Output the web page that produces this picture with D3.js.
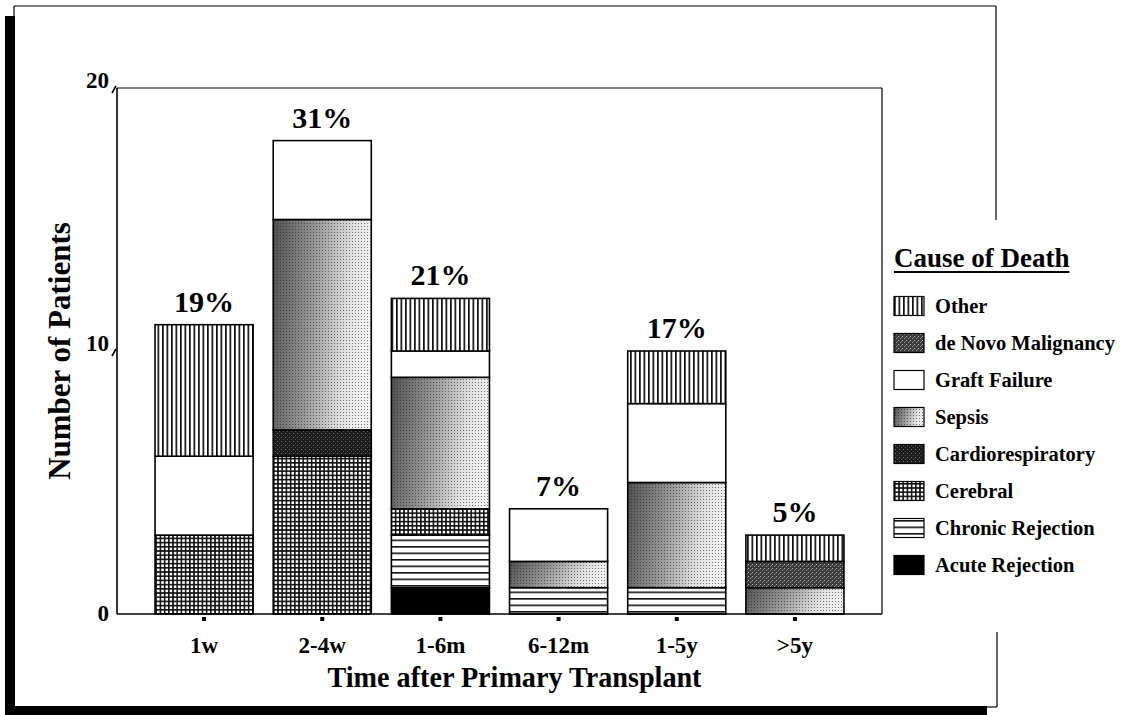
<!DOCTYPE html>
<html><head><meta charset="utf-8">
<script src="https://cdn.jsdelivr.net/npm/d3@7/dist/d3.min.js"></script>
<style>
html,body{margin:0;padding:0;background:#fff;}
svg text{font-family:"Liberation Serif","Times New Roman",serif;font-weight:bold;fill:#000;}
</style></head>
<body>
<svg id="chart" width="1131" height="715"></svg>
<script>
// ---- data ----
const categories = ["1w", "2-4w", "1-6m", "6-12m", "1-5y", ">5y"];
const acuteRejection   = [0, 0, 1, 0, 0, 0];
const chronicRejection = [0, 0, 2, 1, 1, 0];
const cerebral         = [3, 6, 1, 0, 0, 0];
const cardiorespiratory= [0, 1, 0, 0, 0, 0];
const sepsis           = [0, 8, 5, 1, 4, 1];
const graftFailure     = [3, 3, 1, 2, 3, 0];
const deNovoMalignancy = [0, 0, 0, 0, 0, 1];
const other            = [5, 0, 2, 0, 2, 1];
const percentLabels = ["19%", "31%", "21%", "7%", "17%", "5%"];
const yTicks = [0, 10, 20];
const seriesNames = ["Acute Rejection", "Chronic Rejection", "Cerebral", "Cardiorespiratory",
                     "Sepsis", "Graft Failure", "de Novo Malignancy", "Other"];
const seriesValues = [acuteRejection, chronicRejection, cerebral, cardiorespiratory,
                      sepsis, graftFailure, deNovoMalignancy, other];
const legendTitle = "Cause of Death";
const xTitle = "Time after Primary Transplant";
const yTitle = "Number of Patients";

// ---- layout ----
const svg = d3.select("#chart");
const plot = {left: 117, right: 882, top: 88, bottom: 614};
const x = d3.scaleBand().domain(categories).range([145, 854]).paddingInner(0.17).paddingOuter(0.085);
const y = d3.scaleLinear().domain([0, 20]).range([plot.bottom, plot.top]);

// ---- patterns ----
const defs = svg.append("defs");
function pat(id, w, h) {
  return defs.append("pattern").attr("id", id).attr("patternUnits", "userSpaceOnUse")
    .attr("width", w).attr("height", h);
}
let p;
p = pat("pOther", 4.5, 10);
p.append("rect").attr("width", 4.5).attr("height", 10).attr("fill", "#fff");
p.append("rect").attr("x", 0).attr("width", 1.7).attr("height", 10).attr("fill", "#111");

p = pat("pCerebral", 4.2, 4.2);
p.append("rect").attr("width", 4.2).attr("height", 4.2).attr("fill", "#fff");
p.append("rect").attr("width", 1.6).attr("height", 4.2).attr("fill", "#111");
p.append("rect").attr("width", 4.2).attr("height", 1.6).attr("fill", "#111");

p = pat("pChronic", 10, 6.5);
p.append("rect").attr("width", 10).attr("height", 6.5).attr("fill", "#fff");
p.append("rect").attr("y", 0).attr("width", 10).attr("height", 1.6).attr("fill", "#111");

p = pat("pCardio", 4, 4);
p.append("rect").attr("width", 4).attr("height", 4).attr("fill", "#1c1c1c");
p.append("rect").attr("x", 1).attr("y", 1).attr("width", 1).attr("height", 1).attr("fill", "#777");
p.append("rect").attr("x", 3).attr("y", 3).attr("width", 1).attr("height", 1).attr("fill", "#555");

p = pat("pNovo", 4, 4);
p.append("rect").attr("width", 4).attr("height", 4).attr("fill", "#3a3a3a");
p.append("rect").attr("x", 0).attr("y", 0).attr("width", 1).attr("height", 1).attr("fill", "#bbb");
p.append("rect").attr("x", 2).attr("y", 2).attr("width", 1).attr("height", 1).attr("fill", "#999");
p.append("rect").attr("x", 3).attr("y", 1).attr("width", 1).attr("height", 1).attr("fill", "#777");

const g = defs.append("linearGradient").attr("id", "gSepsis").attr("x1", 0).attr("x2", 1).attr("y1", 0).attr("y2", 0.15);
g.append("stop").attr("offset", 0).attr("stop-color", "#505050");
g.append("stop").attr("offset", 0.45).attr("stop-color", "#999");
g.append("stop").attr("offset", 0.8).attr("stop-color", "#e0e0e0");
g.append("stop").attr("offset", 1).attr("stop-color", "#f2f2f2");
p = pat("pDots", 3, 3);
p.append("rect").attr("x", 1).attr("y", 1).attr("width", 1).attr("height", 1).attr("fill", "#222").attr("opacity", 0.6);

const styles = {
  "Acute Rejection":   {fill: "#000"},
  "Chronic Rejection": {fill: "url(#pChronic)"},
  "Cerebral":          {fill: "url(#pCerebral)"},
  "Cardiorespiratory": {fill: "url(#pCardio)"},
  "Sepsis":            {fill: "url(#gSepsis)", overlay: "url(#pDots)"},
  "Graft Failure":     {fill: "#fff"},
  "de Novo Malignancy":{fill: "url(#pNovo)"},
  "Other":             {fill: "url(#pOther)"}
};

// ---- outer frame with shadow ----
svg.append("rect").attr("x", 5).attr("y", 16).attr("width", 10).attr("height", 698).attr("fill", "#000");
svg.append("rect").attr("x", 5).attr("y", 706).attr("width", 982).attr("height", 9).attr("fill", "#000");
const frame = svg.append("g").attr("stroke", "#000").attr("stroke-width", 1.2).attr("fill", "none");
frame.append("line").attr("x1", 14).attr("y1", 6).attr("x2", 996).attr("y2", 6);
frame.append("line").attr("x1", 14).attr("y1", 6).attr("x2", 14).attr("y2", 16);
frame.append("line").attr("x1", 996).attr("y1", 6).attr("x2", 996).attr("y2", 220);
frame.append("line").attr("x1", 997).attr("y1", 632).attr("x2", 997).attr("y2", 707);
frame.append("line").attr("x1", 987).attr("y1", 707).attr("x2", 997).attr("y2", 707);

// ---- stacked data ----
const table = categories.map((c, i) => {
  const o = {cat: c};
  seriesNames.forEach((s, k) => o[s] = seriesValues[k][i]);
  return o;
});
const stacked = d3.stack().keys(seriesNames)(table);

const barsG = svg.append("g");
stacked.forEach(layer => {
  const st = styles[layer.key];
  layer.forEach(d => {
    if (d[1] - d[0] <= 0) return;
    const bx = x(d.data.cat), by = y(d[1]), bh = y(d[0]) - y(d[1]);
    barsG.append("rect").attr("x", bx).attr("y", by).attr("width", x.bandwidth()).attr("height", bh)
      .attr("fill", st.fill);
    if (st.overlay) barsG.append("rect").attr("x", bx).attr("y", by).attr("width", x.bandwidth()).attr("height", bh)
      .attr("fill", st.overlay);
    barsG.append("rect").attr("x", bx).attr("y", by).attr("width", x.bandwidth()).attr("height", bh)
      .attr("fill", "none").attr("stroke", "#000").attr("stroke-width", 1.6);
  });
});

// ---- plot frame / axes ----
const axG = svg.append("g").attr("stroke", "#000").attr("fill", "none");
axG.append("line").attr("x1", plot.left).attr("y1", plot.top).attr("x2", plot.right).attr("y2", plot.top).attr("stroke-width", 1.2);
axG.append("line").attr("x1", plot.right).attr("y1", plot.top).attr("x2", plot.right).attr("y2", plot.bottom).attr("stroke-width", 1.2);
axG.append("line").attr("x1", plot.left).attr("y1", plot.top).attr("x2", plot.left).attr("y2", plot.bottom).attr("stroke-width", 1.6);
axG.append("line").attr("x1", plot.left).attr("y1", plot.bottom).attr("x2", plot.right).attr("y2", plot.bottom).attr("stroke-width", 1.6);

// y ticks
yTicks.forEach(t => {
  svg.append("text").attr("x", 109).attr("y", y(t) + (t > 0 ? 0 : 7)).attr("text-anchor", "end")
    .style("font-size", "23px").text(t);
  if (t > 0) svg.append("line").attr("x1", 116).attr("y1", y(t) - 2).attr("x2", 112).attr("y2", y(t) + 5)
    .attr("stroke", "#000").attr("stroke-width", 1.6);
});

// x ticks + labels
categories.forEach((c, i) => {
  const cx = x(c) + x.bandwidth() / 2;
  svg.append("rect").attr("x", cx - 2).attr("y", 617).attr("width", 4).attr("height", 4).attr("fill", "#000");
  svg.append("text").attr("x", cx).attr("y", 653).attr("text-anchor", "middle").style("font-size", "23px").text(c);
  const total = d3.sum(seriesValues, s => s[i]);
  svg.append("text").attr("x", cx).attr("y", y(total) - 13).attr("text-anchor", "middle")
    .style("font-size", "30px").text(percentLabels[i]);
});

// titles
svg.append("text").attr("x", (plot.left + plot.right) / 2 + 15).attr("y", 687).attr("text-anchor", "middle")
  .style("font-size", "30px").attr("textLength", 374).attr("lengthAdjust", "spacingAndGlyphs").text(xTitle);
svg.append("text").attr("transform", `translate(70,${(plot.top + plot.bottom) / 2}) rotate(-90)`)
  .attr("text-anchor", "middle").style("font-size", "31px").text(yTitle);

// ---- legend ----
const lg = svg.append("g").attr("transform", "translate(894,0)");
const lt = lg.append("text").attr("x", 0).attr("y", 267).style("font-size", "27px").text(legendTitle);
const ltw = lt.node().getComputedTextLength();
lg.append("line").attr("x1", 0).attr("x2", ltw).attr("y1", 272).attr("y2", 272).attr("stroke", "#000").attr("stroke-width", 2);
const legendOrder = seriesNames.slice().reverse();
legendOrder.forEach((s, i) => {
  const cy = 306 + i * 37;
  const st = styles[s];
  lg.append("rect").attr("x", 0).attr("y", cy - 9.5).attr("width", 30).attr("height", 19).attr("fill", st.fill);
  if (st.overlay) lg.append("rect").attr("x", 0).attr("y", cy - 9.5).attr("width", 30).attr("height", 19).attr("fill", st.overlay);
  lg.append("rect").attr("x", 0).attr("y", cy - 9.5).attr("width", 30).attr("height", 19)
    .attr("fill", "none").attr("stroke", "#000").attr("stroke-width", 1.2);
  lg.append("text").attr("x", 41).attr("y", cy).attr("dy", "0.35em").style("font-size", "20.5px").text(s);
});
</script>
</body></html>
